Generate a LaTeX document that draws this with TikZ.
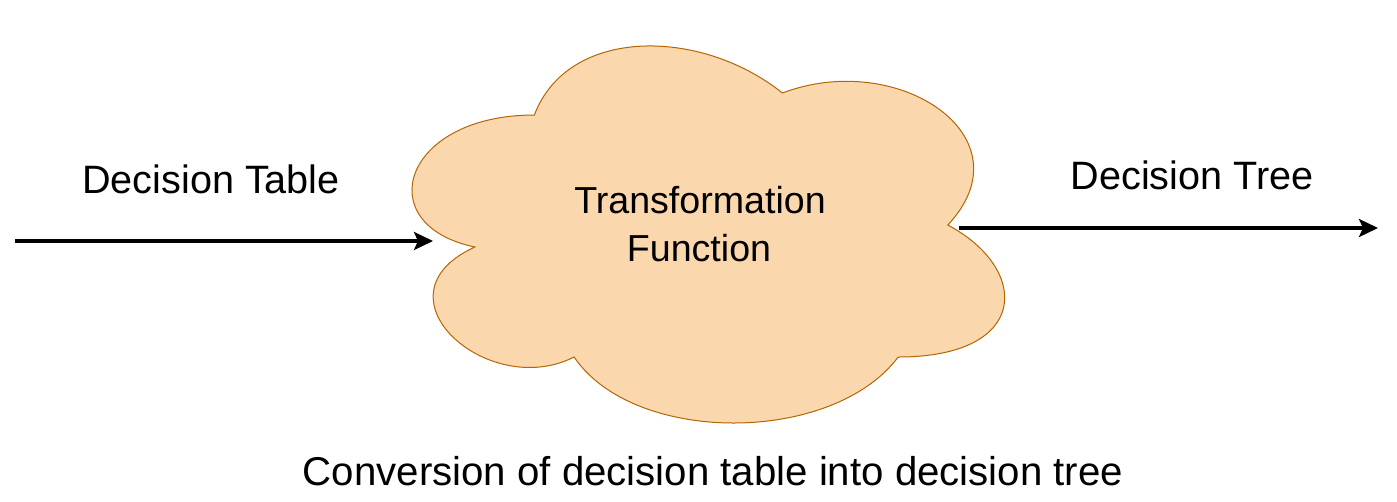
\documentclass[tikz,border=0pt]{standalone}
\usepackage{fontspec}
\setmainfont{Liberation Sans}
\usetikzlibrary{arrows.meta}
\definecolor{cloudfill}{HTML}{FAD7AC}
\definecolor{cloudline}{HTML}{B46504}
\tikzset{
  lbl/.style={inner sep=0pt, anchor=base, font=\fontsize{39.6}{46}\selectfont},
  cloudtxt/.style={inner sep=0pt, anchor=base, font=\fontsize{37.6}{44}\selectfont},
  captxt/.style={inner sep=0pt, anchor=base, font=\fontsize{40.2}{48}\selectfont},
  flow/.style={line width=3.4pt, -{Stealth[length=19pt, width=18pt, inset=4pt]}},
  cloudshape/.style={fill=cloudfill, draw=cloudline, line width=1pt}
}
\begin{document}
\begin{tikzpicture}[x=1pt, y=-1pt]
  \useasboundingbox (0,0) rectangle (1397,501);
  % cloud (draw.io cloud outline)
  \begin{scope}[shift={(369pt,-5pt)}, x=661.5pt, y=-440pt]
    \path[cloudshape] (0.25,0.25) .. controls (0.05,0.25) and (0,0.5) .. (0.16,0.55)
      .. controls (0,0.66) and (0.18,0.9) .. (0.31,0.8)
      .. controls (0.4,1) and (0.7,1) .. (0.8,0.8)
      .. controls (1,0.8) and (1,0.6) .. (0.875,0.5)
      .. controls (1,0.3) and (0.8,0.1) .. (0.625,0.2)
      .. controls (0.5,0.05) and (0.3,0.05) .. (0.25,0.25) -- cycle;
  \end{scope}
  \node[cloudtxt] (t1) at (700,213) {Transformation};
  \node[cloudtxt] (t2) at (699,261) {Function};
  % connector end points
  \coordinate (inStart) at (15,241);
  \coordinate (cloudW) at (433,241);
  \coordinate (cloudE) at (959,228);
  \coordinate (outEnd) at (1378,228);
  \draw[flow] (inStart) -- (cloudW);
  \draw[flow] (cloudE) -- (outEnd);
  % labels
  \node[lbl] (dtable) at (211,193) {Decision Table};
  \node[lbl] (dtree) at (1192,189) {Decision Tree};
  \node[captxt] (cap) at (713,485) {Conversion of decision table into decision tree};
\end{tikzpicture}
\end{document}
